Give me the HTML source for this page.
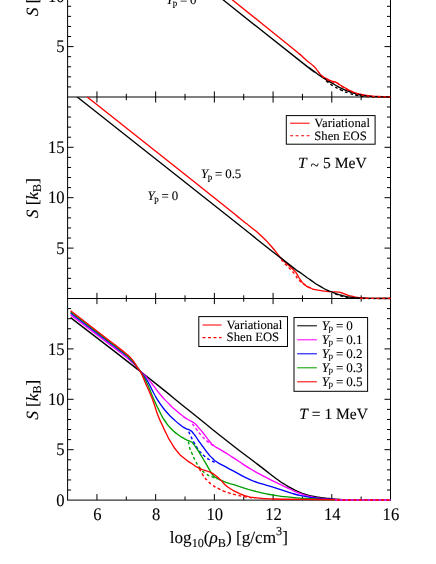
<!DOCTYPE html>
<html><head><meta charset="utf-8"><title>Entropy per baryon</title>
<style>
html,body{margin:0;padding:0;background:#fff;}
svg{display:block;}
text{fill:#000;text-rendering:geometricPrecision;stroke:#000;stroke-width:0.1px;}
</style></head>
<body>
<svg width="436" height="564" viewBox="0 0 436 564">
<rect x="0" y="0" width="436" height="564" fill="#fff"/>
<defs>
<clipPath id="c1"><rect x="67.6" y="-5" width="322.9" height="103.0"/></clipPath>
<clipPath id="c2"><rect x="67.6" y="97.0" width="322.9" height="202.5"/></clipPath>
</defs>
<g id="axes">
<line x1="67.60" y1="-2.00" x2="67.60" y2="500.60" stroke="#000" stroke-width="1.0"/>
<line x1="390.50" y1="-2.00" x2="390.50" y2="500.60" stroke="#000" stroke-width="1.0"/>
<line x1="67.60" y1="97.00" x2="390.50" y2="97.00" stroke="#000" stroke-width="1.0"/>
<line x1="67.60" y1="298.50" x2="390.50" y2="298.50" stroke="#000" stroke-width="1.0"/>
<line x1="67.60" y1="500.10" x2="390.50" y2="500.10" stroke="#000" stroke-width="1.0"/>
<line x1="67.60" y1="86.92" x2="71.10" y2="86.92" stroke="#000" stroke-width="1.0"/>
<line x1="387.00" y1="86.92" x2="390.50" y2="86.92" stroke="#000" stroke-width="1.0"/>
<line x1="67.60" y1="76.84" x2="71.10" y2="76.84" stroke="#000" stroke-width="1.0"/>
<line x1="387.00" y1="76.84" x2="390.50" y2="76.84" stroke="#000" stroke-width="1.0"/>
<line x1="67.60" y1="66.76" x2="71.10" y2="66.76" stroke="#000" stroke-width="1.0"/>
<line x1="387.00" y1="66.76" x2="390.50" y2="66.76" stroke="#000" stroke-width="1.0"/>
<line x1="67.60" y1="56.68" x2="71.10" y2="56.68" stroke="#000" stroke-width="1.0"/>
<line x1="387.00" y1="56.68" x2="390.50" y2="56.68" stroke="#000" stroke-width="1.0"/>
<line x1="67.60" y1="46.60" x2="73.60" y2="46.60" stroke="#000" stroke-width="1.0"/>
<line x1="384.50" y1="46.60" x2="390.50" y2="46.60" stroke="#000" stroke-width="1.0"/>
<line x1="67.60" y1="36.52" x2="71.10" y2="36.52" stroke="#000" stroke-width="1.0"/>
<line x1="387.00" y1="36.52" x2="390.50" y2="36.52" stroke="#000" stroke-width="1.0"/>
<line x1="67.60" y1="26.44" x2="71.10" y2="26.44" stroke="#000" stroke-width="1.0"/>
<line x1="387.00" y1="26.44" x2="390.50" y2="26.44" stroke="#000" stroke-width="1.0"/>
<line x1="67.60" y1="16.36" x2="71.10" y2="16.36" stroke="#000" stroke-width="1.0"/>
<line x1="387.00" y1="16.36" x2="390.50" y2="16.36" stroke="#000" stroke-width="1.0"/>
<line x1="67.60" y1="6.28" x2="71.10" y2="6.28" stroke="#000" stroke-width="1.0"/>
<line x1="387.00" y1="6.28" x2="390.50" y2="6.28" stroke="#000" stroke-width="1.0"/>
<line x1="67.60" y1="288.42" x2="71.10" y2="288.42" stroke="#000" stroke-width="1.0"/>
<line x1="387.00" y1="288.42" x2="390.50" y2="288.42" stroke="#000" stroke-width="1.0"/>
<line x1="67.60" y1="278.34" x2="71.10" y2="278.34" stroke="#000" stroke-width="1.0"/>
<line x1="387.00" y1="278.34" x2="390.50" y2="278.34" stroke="#000" stroke-width="1.0"/>
<line x1="67.60" y1="268.26" x2="71.10" y2="268.26" stroke="#000" stroke-width="1.0"/>
<line x1="387.00" y1="268.26" x2="390.50" y2="268.26" stroke="#000" stroke-width="1.0"/>
<line x1="67.60" y1="258.18" x2="71.10" y2="258.18" stroke="#000" stroke-width="1.0"/>
<line x1="387.00" y1="258.18" x2="390.50" y2="258.18" stroke="#000" stroke-width="1.0"/>
<line x1="67.60" y1="248.10" x2="73.60" y2="248.10" stroke="#000" stroke-width="1.0"/>
<line x1="384.50" y1="248.10" x2="390.50" y2="248.10" stroke="#000" stroke-width="1.0"/>
<line x1="67.60" y1="238.02" x2="71.10" y2="238.02" stroke="#000" stroke-width="1.0"/>
<line x1="387.00" y1="238.02" x2="390.50" y2="238.02" stroke="#000" stroke-width="1.0"/>
<line x1="67.60" y1="227.94" x2="71.10" y2="227.94" stroke="#000" stroke-width="1.0"/>
<line x1="387.00" y1="227.94" x2="390.50" y2="227.94" stroke="#000" stroke-width="1.0"/>
<line x1="67.60" y1="217.86" x2="71.10" y2="217.86" stroke="#000" stroke-width="1.0"/>
<line x1="387.00" y1="217.86" x2="390.50" y2="217.86" stroke="#000" stroke-width="1.0"/>
<line x1="67.60" y1="207.78" x2="71.10" y2="207.78" stroke="#000" stroke-width="1.0"/>
<line x1="387.00" y1="207.78" x2="390.50" y2="207.78" stroke="#000" stroke-width="1.0"/>
<line x1="67.60" y1="197.70" x2="73.60" y2="197.70" stroke="#000" stroke-width="1.0"/>
<line x1="384.50" y1="197.70" x2="390.50" y2="197.70" stroke="#000" stroke-width="1.0"/>
<line x1="67.60" y1="187.62" x2="71.10" y2="187.62" stroke="#000" stroke-width="1.0"/>
<line x1="387.00" y1="187.62" x2="390.50" y2="187.62" stroke="#000" stroke-width="1.0"/>
<line x1="67.60" y1="177.54" x2="71.10" y2="177.54" stroke="#000" stroke-width="1.0"/>
<line x1="387.00" y1="177.54" x2="390.50" y2="177.54" stroke="#000" stroke-width="1.0"/>
<line x1="67.60" y1="167.46" x2="71.10" y2="167.46" stroke="#000" stroke-width="1.0"/>
<line x1="387.00" y1="167.46" x2="390.50" y2="167.46" stroke="#000" stroke-width="1.0"/>
<line x1="67.60" y1="157.38" x2="71.10" y2="157.38" stroke="#000" stroke-width="1.0"/>
<line x1="387.00" y1="157.38" x2="390.50" y2="157.38" stroke="#000" stroke-width="1.0"/>
<line x1="67.60" y1="147.30" x2="73.60" y2="147.30" stroke="#000" stroke-width="1.0"/>
<line x1="384.50" y1="147.30" x2="390.50" y2="147.30" stroke="#000" stroke-width="1.0"/>
<line x1="67.60" y1="137.22" x2="71.10" y2="137.22" stroke="#000" stroke-width="1.0"/>
<line x1="387.00" y1="137.22" x2="390.50" y2="137.22" stroke="#000" stroke-width="1.0"/>
<line x1="67.60" y1="127.14" x2="71.10" y2="127.14" stroke="#000" stroke-width="1.0"/>
<line x1="387.00" y1="127.14" x2="390.50" y2="127.14" stroke="#000" stroke-width="1.0"/>
<line x1="67.60" y1="117.06" x2="71.10" y2="117.06" stroke="#000" stroke-width="1.0"/>
<line x1="387.00" y1="117.06" x2="390.50" y2="117.06" stroke="#000" stroke-width="1.0"/>
<line x1="67.60" y1="106.98" x2="71.10" y2="106.98" stroke="#000" stroke-width="1.0"/>
<line x1="387.00" y1="106.98" x2="390.50" y2="106.98" stroke="#000" stroke-width="1.0"/>
<line x1="67.60" y1="490.02" x2="71.10" y2="490.02" stroke="#000" stroke-width="1.0"/>
<line x1="387.00" y1="490.02" x2="390.50" y2="490.02" stroke="#000" stroke-width="1.0"/>
<line x1="67.60" y1="479.94" x2="71.10" y2="479.94" stroke="#000" stroke-width="1.0"/>
<line x1="387.00" y1="479.94" x2="390.50" y2="479.94" stroke="#000" stroke-width="1.0"/>
<line x1="67.60" y1="469.86" x2="71.10" y2="469.86" stroke="#000" stroke-width="1.0"/>
<line x1="387.00" y1="469.86" x2="390.50" y2="469.86" stroke="#000" stroke-width="1.0"/>
<line x1="67.60" y1="459.78" x2="71.10" y2="459.78" stroke="#000" stroke-width="1.0"/>
<line x1="387.00" y1="459.78" x2="390.50" y2="459.78" stroke="#000" stroke-width="1.0"/>
<line x1="67.60" y1="449.70" x2="73.60" y2="449.70" stroke="#000" stroke-width="1.0"/>
<line x1="384.50" y1="449.70" x2="390.50" y2="449.70" stroke="#000" stroke-width="1.0"/>
<line x1="67.60" y1="439.62" x2="71.10" y2="439.62" stroke="#000" stroke-width="1.0"/>
<line x1="387.00" y1="439.62" x2="390.50" y2="439.62" stroke="#000" stroke-width="1.0"/>
<line x1="67.60" y1="429.54" x2="71.10" y2="429.54" stroke="#000" stroke-width="1.0"/>
<line x1="387.00" y1="429.54" x2="390.50" y2="429.54" stroke="#000" stroke-width="1.0"/>
<line x1="67.60" y1="419.46" x2="71.10" y2="419.46" stroke="#000" stroke-width="1.0"/>
<line x1="387.00" y1="419.46" x2="390.50" y2="419.46" stroke="#000" stroke-width="1.0"/>
<line x1="67.60" y1="409.38" x2="71.10" y2="409.38" stroke="#000" stroke-width="1.0"/>
<line x1="387.00" y1="409.38" x2="390.50" y2="409.38" stroke="#000" stroke-width="1.0"/>
<line x1="67.60" y1="399.30" x2="73.60" y2="399.30" stroke="#000" stroke-width="1.0"/>
<line x1="384.50" y1="399.30" x2="390.50" y2="399.30" stroke="#000" stroke-width="1.0"/>
<line x1="67.60" y1="389.22" x2="71.10" y2="389.22" stroke="#000" stroke-width="1.0"/>
<line x1="387.00" y1="389.22" x2="390.50" y2="389.22" stroke="#000" stroke-width="1.0"/>
<line x1="67.60" y1="379.14" x2="71.10" y2="379.14" stroke="#000" stroke-width="1.0"/>
<line x1="387.00" y1="379.14" x2="390.50" y2="379.14" stroke="#000" stroke-width="1.0"/>
<line x1="67.60" y1="369.06" x2="71.10" y2="369.06" stroke="#000" stroke-width="1.0"/>
<line x1="387.00" y1="369.06" x2="390.50" y2="369.06" stroke="#000" stroke-width="1.0"/>
<line x1="67.60" y1="358.98" x2="71.10" y2="358.98" stroke="#000" stroke-width="1.0"/>
<line x1="387.00" y1="358.98" x2="390.50" y2="358.98" stroke="#000" stroke-width="1.0"/>
<line x1="67.60" y1="348.90" x2="73.60" y2="348.90" stroke="#000" stroke-width="1.0"/>
<line x1="384.50" y1="348.90" x2="390.50" y2="348.90" stroke="#000" stroke-width="1.0"/>
<line x1="67.60" y1="338.82" x2="71.10" y2="338.82" stroke="#000" stroke-width="1.0"/>
<line x1="387.00" y1="338.82" x2="390.50" y2="338.82" stroke="#000" stroke-width="1.0"/>
<line x1="67.60" y1="328.74" x2="71.10" y2="328.74" stroke="#000" stroke-width="1.0"/>
<line x1="387.00" y1="328.74" x2="390.50" y2="328.74" stroke="#000" stroke-width="1.0"/>
<line x1="67.60" y1="318.66" x2="71.10" y2="318.66" stroke="#000" stroke-width="1.0"/>
<line x1="387.00" y1="318.66" x2="390.50" y2="318.66" stroke="#000" stroke-width="1.0"/>
<line x1="67.60" y1="308.58" x2="71.10" y2="308.58" stroke="#000" stroke-width="1.0"/>
<line x1="387.00" y1="308.58" x2="390.50" y2="308.58" stroke="#000" stroke-width="1.0"/>
<line x1="96.95" y1="91.40" x2="96.95" y2="102.60" stroke="#000" stroke-width="1.0"/>
<line x1="126.31" y1="93.80" x2="126.31" y2="100.20" stroke="#000" stroke-width="1.0"/>
<line x1="155.66" y1="91.40" x2="155.66" y2="102.60" stroke="#000" stroke-width="1.0"/>
<line x1="185.02" y1="93.80" x2="185.02" y2="100.20" stroke="#000" stroke-width="1.0"/>
<line x1="214.37" y1="91.40" x2="214.37" y2="102.60" stroke="#000" stroke-width="1.0"/>
<line x1="243.73" y1="93.80" x2="243.73" y2="100.20" stroke="#000" stroke-width="1.0"/>
<line x1="273.08" y1="91.40" x2="273.08" y2="102.60" stroke="#000" stroke-width="1.0"/>
<line x1="302.44" y1="93.80" x2="302.44" y2="100.20" stroke="#000" stroke-width="1.0"/>
<line x1="331.79" y1="91.40" x2="331.79" y2="102.60" stroke="#000" stroke-width="1.0"/>
<line x1="361.15" y1="93.80" x2="361.15" y2="100.20" stroke="#000" stroke-width="1.0"/>
<line x1="96.95" y1="292.90" x2="96.95" y2="304.10" stroke="#000" stroke-width="1.0"/>
<line x1="126.31" y1="295.30" x2="126.31" y2="301.70" stroke="#000" stroke-width="1.0"/>
<line x1="155.66" y1="292.90" x2="155.66" y2="304.10" stroke="#000" stroke-width="1.0"/>
<line x1="185.02" y1="295.30" x2="185.02" y2="301.70" stroke="#000" stroke-width="1.0"/>
<line x1="214.37" y1="292.90" x2="214.37" y2="304.10" stroke="#000" stroke-width="1.0"/>
<line x1="243.73" y1="295.30" x2="243.73" y2="301.70" stroke="#000" stroke-width="1.0"/>
<line x1="273.08" y1="292.90" x2="273.08" y2="304.10" stroke="#000" stroke-width="1.0"/>
<line x1="302.44" y1="295.30" x2="302.44" y2="301.70" stroke="#000" stroke-width="1.0"/>
<line x1="331.79" y1="292.90" x2="331.79" y2="304.10" stroke="#000" stroke-width="1.0"/>
<line x1="361.15" y1="295.30" x2="361.15" y2="301.70" stroke="#000" stroke-width="1.0"/>
<line x1="96.95" y1="494.10" x2="96.95" y2="500.10" stroke="#000" stroke-width="1.0"/>
<line x1="126.31" y1="496.50" x2="126.31" y2="500.10" stroke="#000" stroke-width="1.0"/>
<line x1="155.66" y1="494.10" x2="155.66" y2="500.10" stroke="#000" stroke-width="1.0"/>
<line x1="185.02" y1="496.50" x2="185.02" y2="500.10" stroke="#000" stroke-width="1.0"/>
<line x1="214.37" y1="494.10" x2="214.37" y2="500.10" stroke="#000" stroke-width="1.0"/>
<line x1="243.73" y1="496.50" x2="243.73" y2="500.10" stroke="#000" stroke-width="1.0"/>
<line x1="273.08" y1="494.10" x2="273.08" y2="500.10" stroke="#000" stroke-width="1.0"/>
<line x1="302.44" y1="496.50" x2="302.44" y2="500.10" stroke="#000" stroke-width="1.0"/>
<line x1="331.79" y1="494.10" x2="331.79" y2="500.10" stroke="#000" stroke-width="1.0"/>
<line x1="361.15" y1="496.50" x2="361.15" y2="500.10" stroke="#000" stroke-width="1.0"/>
</g>
<g id="curves">
<path d="M224.00,-6.80 C226.83,-4.53 210.50,-17.67 232.50,0.00 C254.50,17.67 267.50,28.00 290.00,46.20 C312.50,64.40 294.37,49.77 300.00,54.60 C305.63,59.43 302.30,56.80 306.90,60.70 C311.50,64.60 310.00,62.60 313.80,66.30 C317.60,70.00 315.63,68.63 318.30,71.80 C320.97,74.97 319.10,73.50 321.80,75.80 C324.50,78.10 323.33,77.00 326.40,78.70 C329.47,80.40 327.57,79.60 331.00,80.90 C334.43,82.20 333.67,81.23 336.70,82.60 C339.73,83.97 337.03,83.07 340.10,85.00 C343.17,86.93 342.60,86.53 345.90,88.40 C349.20,90.27 345.73,88.80 350.00,90.60 C354.27,92.40 352.53,92.10 358.70,93.80 C364.87,95.50 362.00,94.80 368.50,95.70 C375.00,96.60 370.87,96.13 378.20,96.50 C385.53,96.87 386.40,96.70 390.50,96.80" fill="none" stroke="#ff0000" stroke-width="1.35" clip-path="url(#c1)" stroke-linejoin="round"/>
<path d="M215.00,-6.60 C217.77,-4.40 194.97,-22.50 223.30,0.00 C251.63,22.50 270.77,37.90 300.00,60.90 C329.23,83.90 303.37,63.43 311.00,69.00 C318.63,74.57 315.10,72.43 322.90,77.60 C330.70,82.77 328.03,80.83 334.40,84.50 C340.77,88.17 336.80,86.13 342.00,88.60 C347.20,91.07 344.43,89.90 350.00,91.90 C355.57,93.90 352.53,93.20 358.70,94.60 C364.87,96.00 362.07,95.40 368.50,96.10 C374.93,96.80 370.67,96.43 378.00,96.70 C385.33,96.97 386.33,96.83 390.50,96.90" fill="none" stroke="#000000" stroke-width="1.35" clip-path="url(#c1)" stroke-linejoin="round"/>
<path d="M326.00,80.80 C328.47,82.53 328.33,82.90 333.40,86.00 C338.47,89.10 336.00,87.70 341.20,90.10 C346.40,92.50 343.80,91.47 349.00,93.20 C354.20,94.93 351.13,94.20 356.80,95.30 C362.47,96.40 354.77,95.93 366.00,96.50 C377.23,97.07 382.33,96.83 390.50,97.00" fill="none" stroke="#000000" stroke-width="1.35" stroke-dasharray="3 2.5" clip-path="url(#c1)" stroke-linejoin="round"/>
<path d="M321.80,76.20 C323.33,77.17 323.33,77.40 326.40,79.10 C329.47,80.80 327.57,80.00 331.00,81.30 C334.43,82.60 333.67,81.63 336.70,83.00 C339.73,84.37 337.03,83.47 340.10,85.40 C343.17,87.33 342.60,86.93 345.90,88.80 C349.20,90.67 345.73,89.23 350.00,91.00 C354.27,92.77 352.53,92.43 358.70,94.10 C364.87,95.77 362.00,95.13 368.50,96.00 C375.00,96.87 370.87,96.40 378.20,96.70 C385.53,97.00 386.40,96.83 390.50,96.90" fill="none" stroke="#ff0000" stroke-width="1.35" stroke-dasharray="3 2.5" clip-path="url(#c1)" stroke-linejoin="round"/>
<path d="M80.20,91.40 C82.30,93.07 66.07,80.20 86.50,96.40 C106.93,112.60 97.67,105.23 141.50,140.00 C185.33,174.77 185.17,174.53 218.00,200.70 C250.83,226.87 229.23,209.83 240.00,218.50 C250.77,227.17 243.43,221.10 250.30,226.70 C257.17,232.30 253.70,228.87 260.60,235.30 C267.50,241.73 264.10,238.30 271.00,246.00 C277.90,253.70 275.63,252.13 281.30,258.40 C286.97,264.67 283.63,260.67 288.00,264.80 C292.37,268.93 291.50,267.83 294.40,270.80 C297.30,273.77 294.80,270.83 296.70,273.70 C298.60,276.57 297.43,275.77 300.10,279.40 C302.77,283.03 301.27,281.73 304.70,284.60 C308.13,287.47 305.97,286.13 310.40,288.00 C314.83,289.87 311.27,288.97 318.00,290.20 C324.73,291.43 323.63,291.03 330.60,291.70 C337.57,292.37 334.07,291.37 338.90,292.20 C343.73,293.03 340.97,292.87 345.10,294.20 C349.23,295.53 345.80,294.97 351.30,296.20 C356.80,297.43 353.70,297.17 361.60,297.90 C369.50,298.63 365.37,298.20 375.00,298.40 C384.63,298.60 385.33,298.47 390.50,298.50" fill="none" stroke="#ff0000" stroke-width="1.35" clip-path="url(#c2)" stroke-linejoin="round"/>
<path d="M70.20,91.40 C72.30,93.07 55.60,79.87 76.50,96.40 C97.40,112.93 85.73,103.70 132.90,141.00 C180.07,178.30 168.53,169.17 218.00,208.30 C267.47,247.43 253.33,236.57 281.30,258.40 C309.27,280.23 292.33,266.73 301.90,273.80 C311.47,280.87 303.87,275.40 310.00,279.60 C316.13,283.80 313.43,282.43 320.30,286.40 C327.17,290.37 323.70,288.57 330.60,291.50 C337.50,294.43 334.10,293.27 341.00,295.20 C347.90,297.13 344.43,296.30 351.30,297.30 C358.17,298.30 348.53,297.80 361.60,298.20 C374.67,298.60 380.87,298.40 390.50,298.50" fill="none" stroke="#000000" stroke-width="1.35" clip-path="url(#c2)" stroke-linejoin="round"/>
<path d="M335.00,293.80 C337.67,294.67 337.67,295.03 343.00,296.40 C348.33,297.77 345.00,297.20 351.00,297.90 C357.00,298.60 347.83,298.30 361.00,298.50 C374.17,298.70 380.67,298.50 390.50,298.50" fill="none" stroke="#000000" stroke-width="1.35" stroke-dasharray="3 2.5" clip-path="url(#c2)" stroke-linejoin="round"/>
<path d="M281.30,259.40 C282.03,260.33 281.63,260.07 283.50,262.20 C285.37,264.33 284.43,263.23 286.90,265.80 C289.37,268.37 288.23,267.03 290.90,269.90 C293.57,272.77 292.60,271.43 294.90,274.40 C297.20,277.37 295.50,276.10 297.80,278.80 C300.10,281.50 299.30,280.33 301.80,282.50 C304.30,284.67 302.23,283.40 305.30,285.30 C308.37,287.20 309.10,287.23 311.00,288.20" fill="none" stroke="#ff0000" stroke-width="1.35" stroke-dasharray="3 2.5" clip-path="url(#c2)" stroke-linejoin="round"/>
<path d="M360.00,298.40 L390.50,298.40" fill="none" stroke="#ff0000" stroke-width="1.35" stroke-dasharray="3 2.5" stroke-linejoin="round"/>
<path d="M70.60,317.60 C94.23,335.87 101.70,341.17 141.50,372.40 C181.30,403.63 161.17,388.20 190.00,411.30 C218.83,434.40 205.77,424.27 228.00,441.70 C250.23,459.13 240.70,451.33 256.70,463.60 C272.70,475.87 266.67,471.60 276.00,478.50 C285.33,485.40 279.37,480.93 284.70,484.30 C290.03,487.67 287.10,485.97 292.00,488.60 C296.90,491.23 294.73,490.20 299.40,492.20 C304.07,494.20 301.13,493.20 306.00,494.60 C310.87,496.00 309.00,495.40 314.00,496.40 C319.00,497.40 316.10,496.90 321.00,497.60 C325.90,498.30 322.37,497.90 328.70,498.50 C335.03,499.10 331.23,498.93 340.00,499.40 C348.77,499.87 338.17,499.70 355.00,499.90 C371.83,500.10 378.67,499.97 390.50,500.00" fill="none" stroke="#000000" stroke-width="1.35" stroke-linejoin="round"/>
<path d="M70.60,314.90 C81.73,323.30 88.20,328.13 104.00,340.10 C119.80,352.07 111.00,345.43 118.00,350.80 C125.00,356.17 120.73,352.73 125.00,356.20 C129.27,359.67 127.60,358.33 130.80,361.20 C134.00,364.07 132.23,362.37 134.60,364.80 C136.97,367.23 135.87,366.17 137.90,368.50 C139.93,370.83 137.47,368.43 140.70,371.80 C143.93,375.17 143.23,373.80 147.60,378.60 C151.97,383.40 149.60,380.90 153.80,386.20 C158.00,391.50 155.63,389.10 160.20,394.50 C164.77,399.90 162.90,397.67 167.50,402.40 C172.10,407.13 169.40,404.57 174.00,408.70 C178.60,412.83 176.97,411.37 181.30,414.80 C185.63,418.23 182.83,416.33 187.00,419.00 C191.17,421.67 190.03,420.00 193.80,422.80 C197.57,425.60 194.93,423.70 198.30,427.40 C201.67,431.10 200.20,429.30 203.90,433.90 C207.60,438.50 206.07,437.23 209.40,441.20 C212.73,445.17 210.37,443.07 213.90,445.80 C217.43,448.53 215.30,446.57 220.00,449.40 C224.70,452.23 221.90,450.43 228.00,454.30 C234.10,458.17 230.97,456.23 238.30,461.00 C245.63,465.77 241.77,463.67 250.00,468.60 C258.23,473.53 254.33,471.20 263.00,475.80 C271.67,480.40 267.10,478.00 276.00,482.40 C284.90,486.80 281.70,485.33 289.70,489.00 C297.70,492.67 292.57,490.77 300.00,493.40 C307.43,496.03 303.67,495.07 312.00,496.90 C320.33,498.73 315.67,497.97 325.00,498.90 C334.33,499.83 318.17,499.33 340.00,499.70 C361.83,500.07 373.67,499.90 390.50,500.00" fill="none" stroke="#ff00ff" stroke-width="1.35" stroke-linejoin="round"/>
<path d="M192.40,423.80 C193.77,425.63 193.60,425.50 196.50,429.30 C199.40,433.10 197.73,431.40 201.10,435.20 C204.47,439.00 202.93,437.47 206.60,440.70 C210.27,443.93 209.47,443.03 212.10,444.90 C214.73,446.77 213.70,445.83 214.50,446.30" fill="none" stroke="#ff00ff" stroke-width="1.35" stroke-dasharray="3 2.5" stroke-linejoin="round"/>
<path d="M70.60,313.00 C81.73,321.47 88.20,326.37 104.00,338.40 C119.80,350.43 111.00,343.70 118.00,349.10 C125.00,354.50 120.73,351.00 125.00,354.60 C129.27,358.20 127.60,356.77 130.80,359.90 C134.00,363.03 132.23,361.27 134.60,364.00 C136.97,366.73 135.87,365.47 137.90,368.10 C139.93,370.73 137.47,367.47 140.70,371.90 C143.93,376.33 143.20,374.20 147.60,381.40 C152.00,388.60 149.70,386.03 153.90,393.50 C158.10,400.97 156.00,397.63 160.20,403.80 C164.40,409.97 162.30,407.13 166.50,412.00 C170.70,416.87 168.30,414.17 172.80,418.40 C177.30,422.63 175.77,421.40 180.00,424.70 C184.23,428.00 182.13,426.43 185.50,428.30 C188.87,430.17 187.33,428.43 190.10,430.30 C192.87,432.17 191.07,430.57 193.80,433.90 C196.53,437.23 195.27,436.03 198.30,440.30 C201.33,444.57 199.90,442.60 202.90,446.70 C205.90,450.80 204.20,448.80 207.30,452.60 C210.40,456.40 208.90,454.90 212.20,458.10 C215.50,461.30 212.83,459.33 217.20,462.20 C221.57,465.07 219.03,463.30 225.30,466.70 C231.57,470.10 227.77,468.10 236.00,472.40 C244.23,476.70 241.00,475.67 250.00,479.60 C259.00,483.53 254.33,481.37 263.00,484.20 C271.67,487.03 267.10,485.30 276.00,488.10 C284.90,490.90 281.70,490.20 289.70,492.60 C297.70,495.00 291.57,493.50 300.00,495.30 C308.43,497.10 305.00,496.70 315.00,498.00 C325.00,499.30 318.33,498.57 330.00,499.20 C341.67,499.83 329.83,499.63 350.00,499.90 C370.17,500.17 377.00,499.97 390.50,500.00" fill="none" stroke="#0000ff" stroke-width="1.35" stroke-linejoin="round"/>
<path d="M188.70,431.60 C189.47,433.27 189.30,433.10 191.00,436.60 C192.70,440.10 191.80,438.43 193.80,442.10 C195.80,445.77 194.73,444.17 197.00,447.60 C199.27,451.03 197.90,449.40 200.60,452.40 C203.30,455.40 201.90,454.03 205.10,456.60 C208.30,459.17 206.67,458.07 210.20,460.10 C213.73,462.13 213.87,461.83 215.70,462.70" fill="none" stroke="#0000ff" stroke-width="1.35" stroke-dasharray="3 2.5" stroke-linejoin="round"/>
<path d="M70.60,311.80 C81.73,320.37 88.20,325.37 104.00,337.50 C119.80,349.63 111.00,342.80 118.00,348.20 C125.00,353.60 120.80,350.10 125.00,353.70 C129.20,357.30 127.40,355.73 130.60,359.00 C133.80,362.27 132.17,360.47 134.60,363.50 C137.03,366.53 135.87,365.27 137.90,368.10 C139.93,370.93 137.47,366.53 140.70,372.00 C143.93,377.47 143.23,375.40 147.60,384.50 C151.97,393.60 149.47,389.63 153.80,399.30 C158.13,408.97 156.97,406.43 160.60,413.50 C164.23,420.57 161.50,415.73 164.70,420.50 C167.90,425.27 165.93,423.20 170.20,427.80 C174.47,432.40 173.23,430.93 177.50,434.30 C181.77,437.67 180.03,436.07 183.00,437.90 C185.97,439.73 183.73,438.53 186.40,439.80 C189.07,441.07 188.53,440.17 191.00,441.70 C193.47,443.23 191.67,441.77 193.80,444.40 C195.93,447.03 195.17,446.20 197.40,449.60 C199.63,453.00 197.93,450.40 200.50,454.60 C203.07,458.80 202.03,457.00 205.10,462.20 C208.17,467.40 207.33,466.17 209.70,470.20 C212.07,474.23 210.03,471.77 212.20,474.30 C214.37,476.83 213.17,475.80 216.20,477.80 C219.23,479.80 217.60,478.63 221.30,480.30 C225.00,481.97 222.40,481.10 227.30,482.80 C232.20,484.50 226.20,482.43 236.00,485.40 C245.80,488.37 243.70,488.40 256.70,491.70 C269.70,495.00 264.00,493.47 275.00,495.30 C286.00,497.13 281.37,496.27 289.70,497.20 C298.03,498.13 289.90,497.40 300.00,498.10 C310.10,498.80 306.67,498.70 320.00,499.30 C333.33,499.90 316.50,499.67 340.00,499.90 C363.50,500.13 373.67,499.97 390.50,500.00" fill="none" stroke="#00a000" stroke-width="1.35" stroke-linejoin="round"/>
<path d="M188.50,441.50 C189.03,444.13 188.93,445.40 190.10,449.40 C191.27,453.40 190.37,449.93 192.00,453.50 C193.63,457.07 192.30,455.20 195.00,460.10 C197.70,465.00 196.40,463.63 200.10,468.20 C203.80,472.77 202.07,470.93 206.10,473.80 C210.13,476.67 208.50,475.13 212.20,476.80 C215.90,478.47 215.53,478.13 217.20,478.80" fill="none" stroke="#00a000" stroke-width="1.35" stroke-dasharray="3 2.5" stroke-linejoin="round"/>
<path d="M70.60,310.70 C81.73,319.30 88.20,324.33 104.00,336.50 C119.80,348.67 111.00,341.77 118.00,347.20 C125.00,352.63 121.07,349.57 125.00,352.80 C128.93,356.03 126.67,353.63 129.80,356.90 C132.93,360.17 131.73,358.83 134.40,362.60 C137.07,366.37 135.70,365.03 137.80,368.20 C139.90,371.37 138.77,368.63 140.70,372.10 C142.63,375.57 141.50,373.77 143.60,378.60 C145.70,383.43 144.70,381.30 147.00,386.60 C149.30,391.90 148.23,389.03 150.50,394.50 C152.77,399.97 151.37,396.17 153.80,403.00 C156.23,409.83 155.10,407.93 157.80,415.00 C160.50,422.07 159.13,418.10 161.90,424.20 C164.67,430.30 163.03,427.20 166.10,433.30 C169.17,439.40 167.30,436.37 171.10,442.50 C174.90,448.63 173.23,446.50 177.50,451.70 C181.77,456.90 179.07,454.10 183.90,458.10 C188.73,462.10 187.27,460.50 192.00,463.70 C196.73,466.90 194.07,465.53 198.10,467.70 C202.13,469.87 200.07,468.70 204.10,470.20 C208.13,471.70 206.50,470.50 210.20,472.20 C213.90,473.90 211.83,472.77 215.20,475.30 C218.57,477.83 216.93,476.60 220.30,479.80 C223.67,483.00 221.97,481.93 225.30,484.90 C228.63,487.87 226.73,486.37 230.30,488.70 C233.87,491.03 232.43,490.07 236.00,491.90 C239.57,493.73 237.17,492.70 241.00,494.20 C244.83,495.70 242.27,495.20 247.50,496.40 C252.73,497.60 247.53,496.93 256.70,497.80 C265.87,498.67 260.57,498.50 275.00,499.00 C289.43,499.50 279.33,499.10 300.00,499.30 C320.67,499.50 324.67,499.50 337.00,499.60" fill="none" stroke="#ff0000" stroke-width="1.35" stroke-linejoin="round"/>
<path d="M199.30,468.60 C200.57,470.83 200.50,471.40 203.10,475.30 C205.70,479.20 204.07,477.10 207.10,480.30 C210.13,483.50 208.50,482.20 212.20,484.90 C215.90,487.60 214.17,486.23 218.20,488.40 C222.23,490.57 220.27,489.73 224.30,491.40 C228.33,493.07 226.40,492.23 230.30,493.40 C234.20,494.57 231.10,493.77 236.00,494.90 C240.90,496.03 238.67,495.77 245.00,496.80 C251.33,497.83 251.67,497.60 255.00,498.00" fill="none" stroke="#ff0000" stroke-width="1.35" stroke-dasharray="3 2.5" stroke-linejoin="round"/>
<path d="M335.00,500.00 L390.50,500.00" fill="none" stroke="#ff00ff" stroke-width="1.35" stroke-linejoin="round"/>
<path d="M337.00,500.00 L390.50,500.00" fill="none" stroke="#ff0000" stroke-width="1.35" stroke-dasharray="3 2.5" stroke-linejoin="round"/>
</g>
<g id="legends">
<rect x="286.30" y="115.60" width="88.80" height="28.60" fill="#fff" stroke="#000" stroke-width="1"/>
<line x1="290.10" y1="123.20" x2="309.60" y2="123.20" stroke="#ff0000" stroke-width="1.05"/>
<line x1="290.10" y1="135.80" x2="309.60" y2="135.80" stroke="#ff0000" stroke-width="1.05" stroke-dasharray="3 2.5"/>
<rect x="198.80" y="316.60" width="88.70" height="29.90" fill="#fff" stroke="#000" stroke-width="1"/>
<line x1="202.50" y1="325.00" x2="221.60" y2="325.00" stroke="#ff0000" stroke-width="1.05"/>
<line x1="202.50" y1="337.60" x2="221.60" y2="337.60" stroke="#ff0000" stroke-width="1.05" stroke-dasharray="3 2.5"/>
<rect x="294.00" y="317.50" width="73.60" height="73.80" fill="#fff" stroke="#000" stroke-width="1"/>
<line x1="297.20" y1="325.80" x2="316.90" y2="325.80" stroke="#000000" stroke-width="1.05"/>
<line x1="297.20" y1="339.80" x2="316.90" y2="339.80" stroke="#ff00ff" stroke-width="1.05"/>
<line x1="297.20" y1="353.80" x2="316.90" y2="353.80" stroke="#0000ff" stroke-width="1.05"/>
<line x1="297.20" y1="367.80" x2="316.90" y2="367.80" stroke="#00a000" stroke-width="1.05"/>
<line x1="297.20" y1="381.80" x2="316.90" y2="381.80" stroke="#ff0000" stroke-width="1.05"/>
<text x="314.30" y="126.90" font-size="12.7" font-family="Liberation Serif, serif">Variational</text>
<text x="314.30" y="139.50" font-size="12.7" font-family="Liberation Serif, serif">Shen EOS</text>
<text x="226.60" y="328.60" font-size="12.7" font-family="Liberation Serif, serif">Variational</text>
<text x="226.60" y="341.30" font-size="12.7" font-family="Liberation Serif, serif">Shen EOS</text>
<text x="321.7" y="329.50" font-size="13.1" word-spacing="-0.4" font-family="Liberation Serif, serif"><tspan font-style="italic">Y</tspan><tspan font-size="9.17" dy="1.83" dx="-0.4">p</tspan><tspan dy="-1.83"> = 0</tspan></text>
<text x="321.7" y="343.50" font-size="13.1" word-spacing="-0.4" font-family="Liberation Serif, serif"><tspan font-style="italic">Y</tspan><tspan font-size="9.17" dy="1.83" dx="-0.4">p</tspan><tspan dy="-1.83"> = 0.1</tspan></text>
<text x="321.7" y="357.50" font-size="13.1" word-spacing="-0.4" font-family="Liberation Serif, serif"><tspan font-style="italic">Y</tspan><tspan font-size="9.17" dy="1.83" dx="-0.4">p</tspan><tspan dy="-1.83"> = 0.2</tspan></text>
<text x="321.7" y="371.50" font-size="13.1" word-spacing="-0.4" font-family="Liberation Serif, serif"><tspan font-style="italic">Y</tspan><tspan font-size="9.17" dy="1.83" dx="-0.4">p</tspan><tspan dy="-1.83"> = 0.3</tspan></text>
<text x="321.7" y="385.50" font-size="13.1" word-spacing="-0.4" font-family="Liberation Serif, serif"><tspan font-style="italic">Y</tspan><tspan font-size="9.17" dy="1.83" dx="-0.4">p</tspan><tspan dy="-1.83"> = 0.5</tspan></text>
</g>
<g id="labels">
<text transform="translate(64.60,52.35) scale(1,1.07)" font-size="16.6" text-anchor="end" font-family="Liberation Serif, serif" >5</text>
<text transform="translate(64.60,1.95) scale(1,1.07)" font-size="16.6" text-anchor="end" font-family="Liberation Serif, serif" >10</text>
<text transform="translate(64.60,253.85) scale(1,1.07)" font-size="16.6" text-anchor="end" font-family="Liberation Serif, serif" >5</text>
<text transform="translate(64.60,203.45) scale(1,1.07)" font-size="16.6" text-anchor="end" font-family="Liberation Serif, serif" >10</text>
<text transform="translate(64.60,153.05) scale(1,1.07)" font-size="16.6" text-anchor="end" font-family="Liberation Serif, serif" >15</text>
<text transform="translate(64.60,505.85) scale(1,1.07)" font-size="16.6" text-anchor="end" font-family="Liberation Serif, serif" >0</text>
<text transform="translate(64.60,455.45) scale(1,1.07)" font-size="16.6" text-anchor="end" font-family="Liberation Serif, serif" >5</text>
<text transform="translate(64.60,405.05) scale(1,1.07)" font-size="16.6" text-anchor="end" font-family="Liberation Serif, serif" >10</text>
<text transform="translate(64.60,354.65) scale(1,1.07)" font-size="16.6" text-anchor="end" font-family="Liberation Serif, serif" >15</text>
<text transform="translate(97.35,519.60) scale(1,1.07)" font-size="16.6" text-anchor="middle" font-family="Liberation Serif, serif" >6</text>
<text transform="translate(156.06,519.60) scale(1,1.07)" font-size="16.6" text-anchor="middle" font-family="Liberation Serif, serif" >8</text>
<text transform="translate(214.77,519.60) scale(1,1.07)" font-size="16.6" text-anchor="middle" font-family="Liberation Serif, serif" >10</text>
<text transform="translate(273.48,519.60) scale(1,1.07)" font-size="16.6" text-anchor="middle" font-family="Liberation Serif, serif" >12</text>
<text transform="translate(332.19,519.60) scale(1,1.07)" font-size="16.6" text-anchor="middle" font-family="Liberation Serif, serif" >14</text>
<text transform="translate(390.90,519.60) scale(1,1.07)" font-size="16.6" text-anchor="middle" font-family="Liberation Serif, serif" >16</text>
<text x="228.80" y="543.00" font-size="17.2" text-anchor="middle" font-family="Liberation Serif, serif" >log<tspan font-size="12.21" dy="3.6">10</tspan><tspan dy="-3.6">(</tspan><tspan font-style="italic">ρ</tspan><tspan font-size="12.21" dy="3.6">B</tspan><tspan dy="-3.6">) [g/cm</tspan><tspan font-size="12.21" dy="-8.2">3</tspan><tspan dy="8.2">]</tspan></text>
<text transform="translate(38.1,-3.70) rotate(-90)" font-size="17.2" text-anchor="middle" font-family="Liberation Serif, serif"><tspan font-style="italic">S</tspan> [<tspan font-style="italic">k</tspan><tspan font-size="12.21" dy="3.0">B</tspan><tspan dy="-3.0">]</tspan></text>
<text transform="translate(38.1,198.20) rotate(-90)" font-size="17.2" text-anchor="middle" font-family="Liberation Serif, serif"><tspan font-style="italic">S</tspan> [<tspan font-style="italic">k</tspan><tspan font-size="12.21" dy="3.0">B</tspan><tspan dy="-3.0">]</tspan></text>
<text transform="translate(38.1,399.80) rotate(-90)" font-size="17.2" text-anchor="middle" font-family="Liberation Serif, serif"><tspan font-style="italic">S</tspan> [<tspan font-style="italic">k</tspan><tspan font-size="12.21" dy="3.0">B</tspan><tspan dy="-3.0">]</tspan></text>
<text x="165.90" y="4.00" font-size="12.9" text-anchor="start" font-family="Liberation Serif, serif" word-spacing="-0.4"><tspan font-style="italic">Y</tspan><tspan font-size="9.03" dy="1.81" dx="-0.4">p</tspan><tspan dy="-1.81"> = 0</tspan></text>
<text x="147.50" y="200.00" font-size="12.9" text-anchor="start" font-family="Liberation Serif, serif" word-spacing="-0.4"><tspan font-style="italic">Y</tspan><tspan font-size="9.03" dy="1.81" dx="-0.4">p</tspan><tspan dy="-1.81"> = 0</tspan></text>
<text x="201.00" y="177.70" font-size="12.9" text-anchor="start" font-family="Liberation Serif, serif" word-spacing="-0.4"><tspan font-style="italic">Y</tspan><tspan font-size="9.03" dy="1.81" dx="-0.4">p</tspan><tspan dy="-1.81"> = 0.5</tspan></text>
<text x="298.00" y="168.20" font-size="15.6" text-anchor="start" font-family="Liberation Serif, serif" ><tspan font-style="italic">T</tspan> <tspan dy="1.6">~</tspan><tspan dy="-1.6"> 5 MeV</tspan></text>
<text x="299.30" y="419.20" font-size="15.5" text-anchor="start" font-family="Liberation Serif, serif" ><tspan font-style="italic">T</tspan> = 1 MeV</text>
</g>
</svg>
</body></html>
